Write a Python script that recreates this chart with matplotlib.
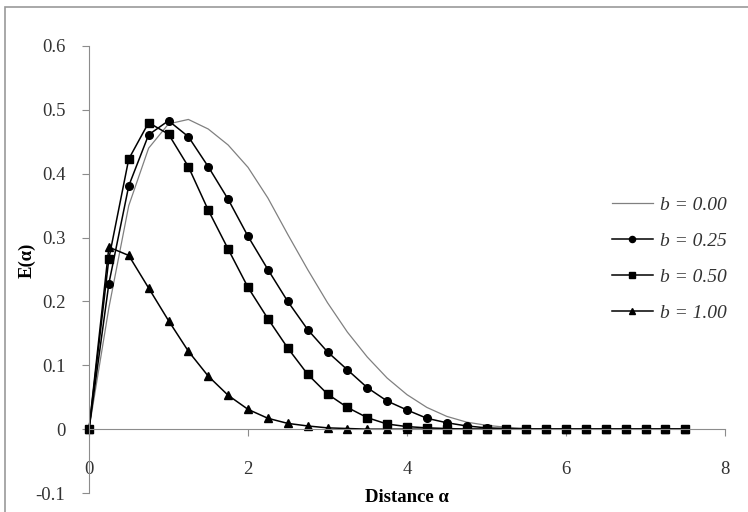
import matplotlib.pyplot as plt
from matplotlib.patches import Rectangle

# distance values (markers every 0.25)
distance = [0, 0.25, 0.5, 0.75, 1.0, 1.25, 1.5, 1.75, 2.0, 2.25, 2.5, 2.75,
            3.0, 3.25, 3.5, 3.75, 4.0, 4.25, 4.5, 4.75, 5.0, 5.25, 5.5, 5.75,
            6.0, 6.25, 6.5, 6.75, 7.0, 7.25, 7.5]

# E(alpha) for each b
e_b000 = [0, 0.19, 0.35, 0.44, 0.478, 0.485, 0.470, 0.445, 0.410, 0.362,
          0.305, 0.250, 0.198, 0.152, 0.113, 0.080, 0.054, 0.034, 0.020,
          0.011, 0.006, 0.003, 0.001, 0, 0, 0, 0, 0, 0, 0, 0]
e_b025 = [0, 0.228, 0.381, 0.461, 0.483, 0.458, 0.411, 0.360, 0.302, 0.250,
          0.200, 0.156, 0.121, 0.093, 0.065, 0.044, 0.030, 0.017, 0.010,
          0.005, 0.002, 0.001, 0, 0, 0, 0, 0, 0, 0, 0, 0]
e_b050 = [0, 0.267, 0.423, 0.480, 0.462, 0.411, 0.343, 0.282, 0.222, 0.173,
          0.127, 0.086, 0.055, 0.034, 0.018, 0.008, 0.004, 0.002, 0.001,
          0, 0, 0, 0, 0, 0, 0, 0, 0, 0, 0, 0]
e_b100 = [0, 0.285, 0.272, 0.221, 0.170, 0.122, 0.083, 0.053, 0.031, 0.017,
          0.009, 0.005, 0.002, 0.001, 0, 0, 0, 0, 0, 0, 0, 0, 0, 0, 0, 0,
          0, 0, 0, 0, 0]

labels = ["b = 0.00", "b = 0.25", "b = 0.50", "b = 1.00"]

plt.rcParams['font.family'] = ['Liberation Serif', 'DejaVu Serif']

W, H = 748, 512
fig = plt.figure(figsize=(W / 100, H / 100), dpi=100)
ax = fig.add_axes([89 / W, 1 - 493 / H, (725 - 89) / W, (493 - 46) / H])

ax.plot(distance, e_b000, color='#808080', lw=0.9, label=labels[0],
        clip_on=False)
ax.plot(distance, e_b025, color='black', lw=1.1, marker='o', ms=5.5,
        label=labels[1], clip_on=False)
ax.plot(distance, e_b050, color='black', lw=1.1, marker='s', ms=6,
        label=labels[2], clip_on=False)
ax.plot(distance, e_b100, color='black', lw=1.1, marker='^', ms=5.5,
        label=labels[3], clip_on=False)

ax.set_xlim(0, 8)
ax.set_ylim(-0.1, 0.6)
ax.set_xticks([0, 2, 4, 6, 8])
ax.set_yticks([-0.1, 0, 0.1, 0.2, 0.3, 0.4, 0.5, 0.6])
ax.set_yticklabels(['-0.1', '0', '0.1', '0.2', '0.3', '0.4', '0.5', '0.6'])

for s in ['top', 'right']:
    ax.spines[s].set_visible(False)
ax.spines['bottom'].set_position(('data', 0))
ax.spines['bottom'].set_color('#8c8c8c')
ax.spines['left'].set_color('#8c8c8c')
ax.tick_params(axis='both', direction='out', length=5, color='#8c8c8c',
               labelsize=13.5, labelcolor='#333333')
ax.tick_params(axis='x', pad=18)
ax.tick_params(axis='y', pad=12)

fig.text(407 / W, 1 - 497 / H, 'Distance \u03b1', ha='center', va='center',
         fontsize=13.5, fontweight='bold')
fig.text(27 / W, 1 - 260 / H, 'E(\u03b1)', ha='center', va='center',
         rotation=90, fontsize=13.5, fontweight='bold')

leg = fig.legend(loc='center left', bbox_to_anchor=(602 / W, 1 - 259 / H),
                 frameon=False, prop={'style': 'italic', 'size': 14},
                 handlelength=2.1, handletextpad=0.4, labelspacing=0.95,
                 borderpad=0, markerscale=0.8, labelcolor='#333333')

# outer chart border (image is cropped on right and bottom)
fig.patches.append(Rectangle((5 / W, -0.1), 1.2, 1.1 - 7 / H,
                             transform=fig.transFigure, fill=False,
                             edgecolor='#999999', lw=1.2))

fig.savefig('out.png', dpi=100)
